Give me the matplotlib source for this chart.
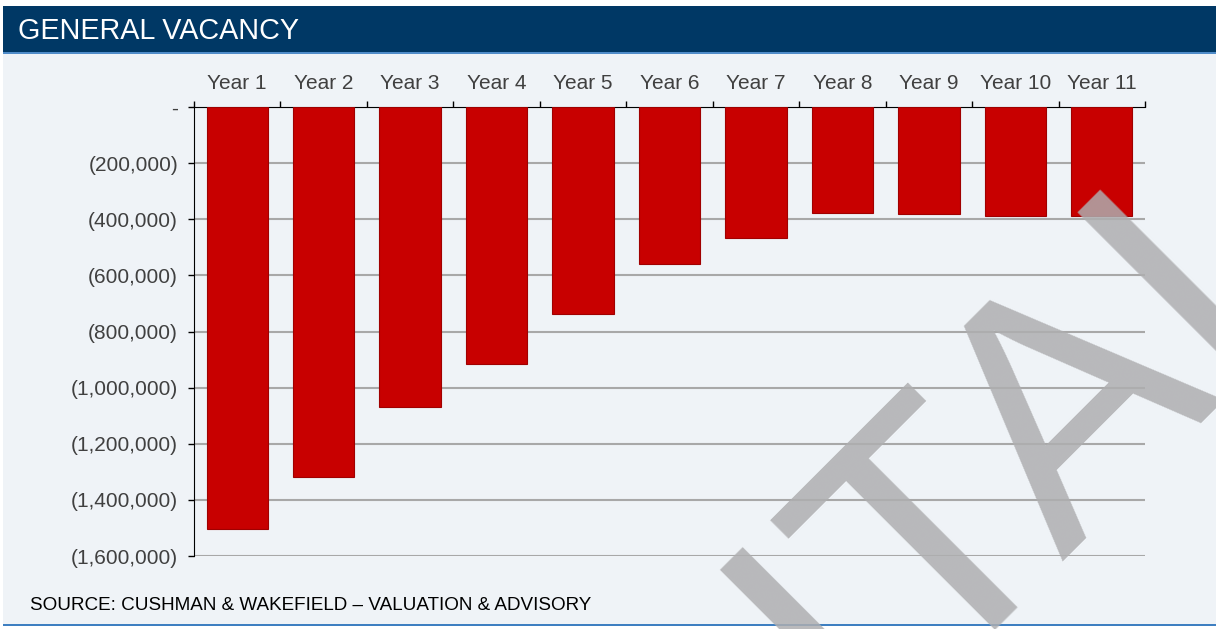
import numpy as np
import matplotlib.pyplot as plt
from matplotlib.patches import Rectangle
from matplotlib.ticker import FuncFormatter, FixedLocator

plt.rcParams['font.family'] = ['Liberation Sans', 'DejaVu Sans']

# vacancy loss per year
years = ['Year 1', 'Year 2', 'Year 3', 'Year 4', 'Year 5', 'Year 6',
         'Year 7', 'Year 8', 'Year 9', 'Year 10', 'Year 11']
vacancy = [-1503000, -1320000, -1068000, -917000, -739000, -560000,
           -468000, -379000, -382000, -387000, -387000]

W, H = 1216, 629
fig = plt.figure(figsize=(W / 100, H / 100), dpi=100)
fig.patch.set_facecolor('white')


def px(x0, y0, x1, y1):
    # pixel box -> figure fraction rectangle
    return (x0 / W, 1 - y1 / H), (x1 - x0) / W, (y1 - y0) / H


# page background, header band and rules
for box, col in [((3, 54, W, 624), '#eff3f7'),
                 ((3, 6, W, 52), '#003865'),
                 ((3, 52, W, 54), '#4f8cc9'),
                 ((3, 624, W, 626), '#3e7fc1')]:
    xy, w, h = px(*box)
    fig.patches.append(Rectangle(xy, w, h, transform=fig.transFigure,
                                 facecolor=col, edgecolor='none', zorder=-10))

fig.text(18 / W, 1 - 31 / H, 'GENERAL VACANCY', color='white', fontsize=20.7,
         va='center', ha='left')
fig.text(30 / W, 1 - 605 / H, 'SOURCE: CUSHMAN & WAKEFIELD \u2013 VALUATION & ADVISORY',
         color='black', fontsize=13.6, va='center', ha='left')

ax = fig.add_axes([194 / W, 1 - 556 / H, 951 / W, 449 / H])
ax.set_facecolor('none')
x = np.arange(len(years))
ax.bar(x, vacancy, width=0.71, color='#c80000', edgecolor='#a00000',
       linewidth=0.8, zorder=3)

ax.set_xlim(-0.5, len(years) - 0.5)
ax.set_ylim(-1600000, 0)
ax.set_yticks(np.arange(-1600000, 1, 200000))


def money(v, pos):
    if v == 0:
        return '-'
    return '({:,.0f})'.format(abs(v))


ax.yaxis.set_major_formatter(FuncFormatter(money))
ax.grid(axis='y', color='#a8a8a8', linewidth=1.5, zorder=1)

ax.xaxis.tick_top()
ax.set_xticks(x)
ax.set_xticklabels(years)
ax.xaxis.set_minor_locator(FixedLocator(np.arange(-0.5, len(years), 1)))
ax.tick_params(axis='x', which='major', length=0, pad=10.4, labelsize=15,
               labelcolor='#404040')
ax.tick_params(axis='x', which='minor', length=4, width=1, color='black',
               direction='out')
ax.tick_params(axis='y', length=4, width=1, color='black', direction='out',
               labelsize=15, labelcolor='#404040', pad=7.5)

for s in ['right', 'bottom']:
    ax.spines[s].set_visible(False)
ax.spines['top'].set_color('black')
ax.spines['left'].set_color('black')

# watermark across the lower right
fig.text(856 / W, 1 - 738 / H, 'ITAL', fontsize=248, color='#aeaeb0',
         alpha=0.85, rotation=45, rotation_mode='anchor', ha='left',
         va='baseline', zorder=10)

fig.savefig('out.png', dpi=100, facecolor=fig.get_facecolor())
